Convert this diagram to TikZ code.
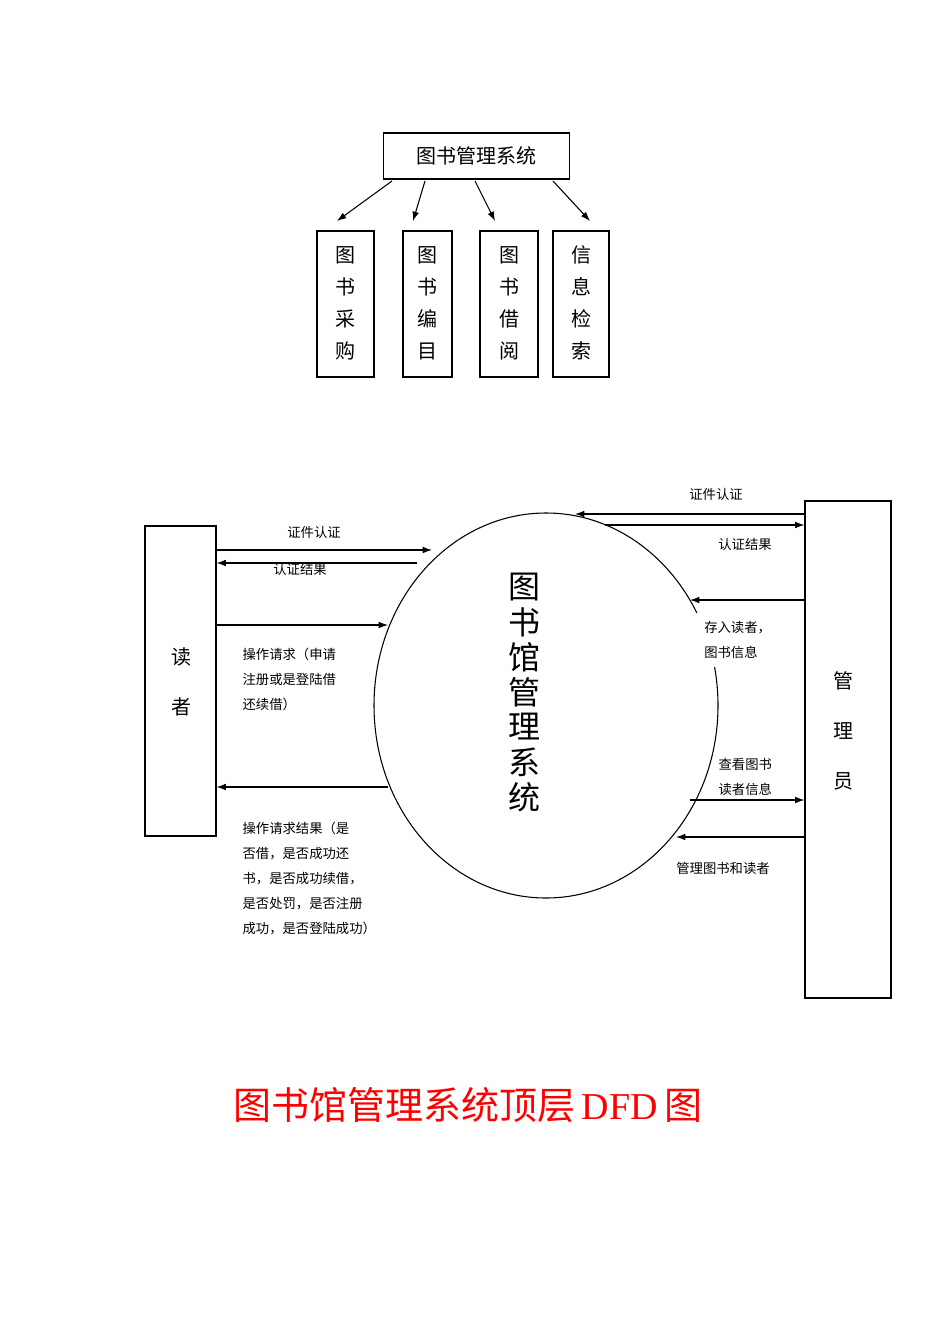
\documentclass[tikz,border=0pt]{standalone}
\usepackage{fontspec}
\usetikzlibrary{arrows.meta}
\setmainfont{Liberation Serif}
\newfontfamily\cjk{Noto Sans CJK SC}
\begin{document}
\begin{tikzpicture}[x=0.75pt,y=-0.75pt,
  box/.style={draw,line width=0.8pt},
  arr/.style={-{Latex[length=7pt,width=5pt]},line width=0.8pt},
  lbl/.style={font=\cjk\fontsize{10}{12}\selectfont,inner sep=1pt},
  vch/.style={font=\cjk\fontsize{15}{17}\selectfont,inner sep=0pt}]
\useasboundingbox (0,0) rectangle (950,1344);
% top
\node[box,minimum width=139pt,minimum height=34.5pt,font=\cjk\fontsize{15}{17}\selectfont] (top) at (476.5,156) {图书管理系统};
\foreach \n/\xa/\xb/\t in {a/317/374/{图,书,采,购},b/403/452/{图,书,编,目},c/480/538/{图,书,借,阅},d/553/609/{信,息,检,索}}{
  \node[box,minimum width={(\xb-\xa)*0.75pt},minimum height=109.5pt] (\n) at ({(\xa+\xb)/2},304) {};
  \foreach \c [count=\i] in \t { \node[vch] at ({(\xa+\xb)/2},{223+32*\i}) {\c}; }
}
\coordinate (s1) at (392,181); \coordinate (s2) at (425,181);
\coordinate (s3) at (475,181); \coordinate (s4) at (553,181);
\draw[arr] (s1) -- (337,221);
\draw[arr] (s2) -- (413,221);
\draw[arr] (s3) -- (495,221);
\draw[arr] (s4) -- (590,221);
% DFD
\node[box,minimum width=53.25pt,minimum height=232.5pt] (reader) at (180.5,681) {};
\node[vch] at (181,657) {读}; \node[vch] at (181,707) {者};
\node[box,minimum width=64.5pt,minimum height=372.75pt] (admin) at (848,749.5) {};
\node[vch] at (843,681) {管}; \node[vch] at (843,731) {理}; \node[vch] at (843,781) {员};
\draw[line width=0.8pt] (546,705.5) ellipse [x radius=172, y radius=192.5];
\node (sys) at (546,705) {};
\foreach \c [count=\i] in {图,书,馆,管,理,系,统}{
  \node[font=\cjk\fontsize{24}{26}\selectfont,inner sep=0pt] at (524,{552+35*\i}) {\c};
}
% left flows
\coordinate (l1) at (432,550); \coordinate (l2) at (417,563);
\coordinate (l3) at (388,625); \coordinate (l4) at (388,787);
\draw[arr] (reader.east |- l1) -- (l1);
\draw[arr] (l2) -- (reader.east |- l2);
\draw[arr] (reader.east |- l3) -- (l3);
\draw[arr] (l4) -- (reader.east |- l4);
\node[lbl] at (314,532) {证件认证};
\node[lbl] at (300,569) {认证结果};
\node[lbl,align=left,anchor=north west,font=\cjk\fontsize{10}{18.75}\selectfont] at (241,646) {操作请求（申请\\注册或是登陆借\\还续借）};
\node[lbl,align=left,anchor=north west,font=\cjk\fontsize{10}{18.75}\selectfont] at (241,820) {操作请求结果（是\\否借，是否成功还\\书，是否成功续借，\\是否处罚，是否注册\\成功，是否登陆成功）};
% right flows
\node[lbl,fill=white,align=left,anchor=north west,font=\cjk\fontsize{10}{18.75}\selectfont,inner sep=6pt] at (696,613) {存入读者，\\图书信息};
\node[lbl,fill=white,align=left,anchor=north west,font=\cjk\fontsize{10}{18.75}\selectfont,inner sep=4pt] at (713,753) {查看图书\\读者信息};
\coordinate (r1) at (575,514); \coordinate (r2) at (605,525);
\coordinate (r3) at (690,600); \coordinate (r4) at (690,800);
\coordinate (r5) at (676,837);
\draw[arr] (admin.west |- r1) -- (r1);
\draw[arr] (r2) -- (admin.west |- r2);
\draw[arr] (admin.west |- r3) -- (r3);
\draw[arr] (r4) -- (admin.west |- r4);
\draw[arr] (admin.west |- r5) -- (r5);
\node[lbl] at (716,494) {证件认证};
\node[lbl] at (745,544) {认证结果};
\node[lbl] at (723,868) {管理图书和读者};
% title
\node[text=red,font=\fontsize{28.5}{30}\selectfont,inner sep=0pt] (title) at (468,1105) {{\cjk\fontsize{28.5}{30}\selectfont 图书馆管理系统顶层}\,DFD\,{\cjk\fontsize{28.5}{30}\selectfont 图}};
\end{tikzpicture}
\end{document}
